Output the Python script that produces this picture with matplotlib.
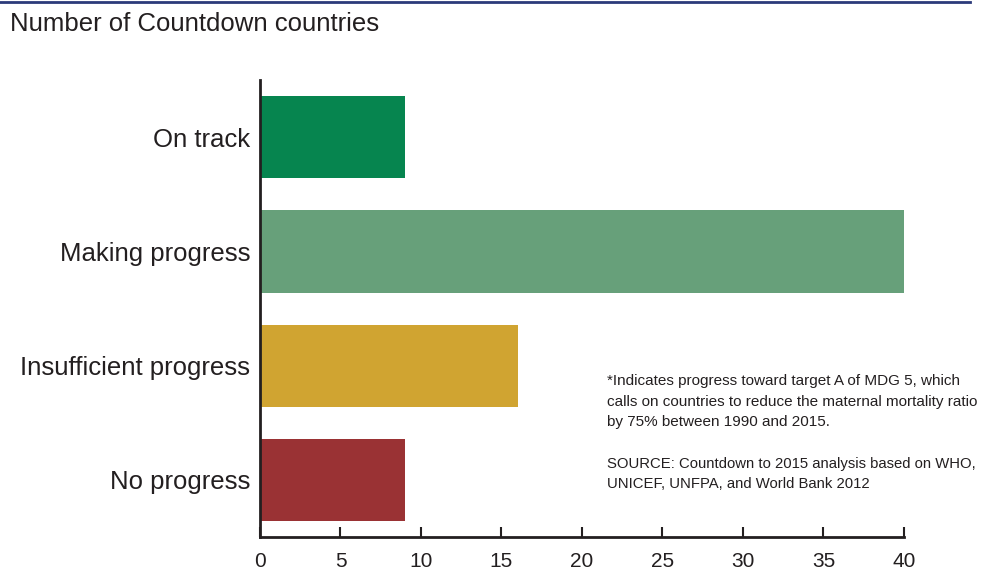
import matplotlib.pyplot as plt

plt.rcParams["font.family"] = ["Liberation Sans", "DejaVu Sans"]

categories = ["On track", "Making progress", "Insufficient progress", "No progress"]
values = [9, 40, 16, 9]
colors = ["#06854F", "#67A07A", "#D0A431", "#9A3234"]
ticks = [0, 5, 10, 15, 20, 25, 30, 35, 40]

note = (
    "*Indicates progress toward target A of MDG 5, which\n"
    "calls on countries to reduce the maternal mortality ratio\n"
    "by 75% between 1990 and 2015."
)
source = (
    "SOURCE: Countdown to 2015 analysis based on WHO,\n"
    "UNICEF, UNFPA, and World Bank 2012"
)

fig = plt.figure(figsize=(9.83, 5.72), dpi=100)
ax = fig.add_axes([0.2645, 0.0612, 0.9196 - 0.2645, 0.8601 - 0.0612])

ypos = list(range(len(categories)))[::-1]
ax.barh(ypos, values, height=0.72, color=colors)

ax.set_xlim(0, 40)
ax.set_ylim(-0.5, 3.5)
ax.set_xticks(ticks)
ax.set_xticklabels([str(t) for t in ticks], fontsize=15, color="#231f20")
ax.set_yticks(ypos)
ax.set_yticklabels(categories, fontsize=18.5, color="#231f20", va="center_baseline")
ax.tick_params(axis="x", direction="in", length=7, width=1.5, pad=11, color="#231f20")
ax.tick_params(axis="y", length=0, pad=7)
for side in ["top", "right"]:
    ax.spines[side].set_visible(False)
for side in ["left", "bottom"]:
    ax.spines[side].set_linewidth(2)
    ax.spines[side].set_color("#231f20")

# top rule and header
fig.add_artist(plt.Line2D([0, 970 / 983], [0.996, 0.996], color="#2B3A7A", linewidth=2))
fig.text(10 / 983, 1 - 24 / 572, "Number of Countdown countries", fontsize=18.5,
         color="#231f20", va="center", ha="left")

fig.text(607 / 983, 1 - 374 / 572, note, fontsize=11, color="#231f20",
         va="top", ha="left", linespacing=1.6)
fig.text(607 / 983, 1 - 457 / 572, source, fontsize=10.7, color="#231f20",
         va="top", ha="left", linespacing=1.5)

fig.savefig("out.png", dpi=100)
